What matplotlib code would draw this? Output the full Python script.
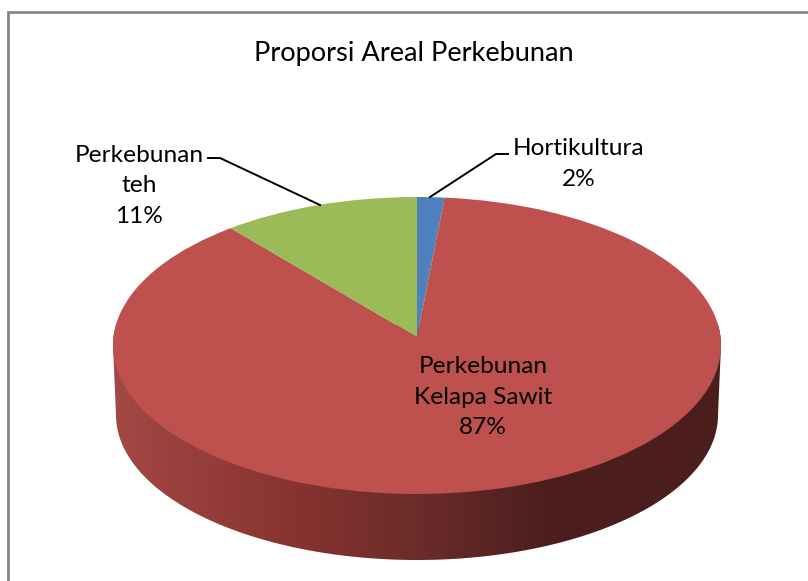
import numpy as np
import matplotlib
matplotlib.use('Agg')
import matplotlib.pyplot as plt
from matplotlib.colors import LinearSegmentedColormap
from matplotlib.patches import Polygon

plt.rcParams['font.family'] = ['Lato', 'DejaVu Sans']

W, H = 808, 581

title = 'Proporsi Areal Perkebunan'
labels = ['Hortikultura', 'Perkebunan\nKelapa Sawit', 'Perkebunan\nteh']
shares = [1.45, 88.05, 10.5]
percent = ['2%', '87%', '11%']
colors = ['#4F81BD', '#BE504D', '#9BBB59']

# where things sit, in image pixels
cx, cy, rx, ry = 417, 345.5, 304, 148.5
apex_y = 337
bot_cy, bot_rx, bot_ry = 415, 301, 145
label_xy = [(579, 164), (483, 397), (139, 186)]

def fy(y):
    return H - y

fig = plt.figure(figsize=(W / 100, H / 100), dpi=100)
ax = fig.add_axes([0, 0, 1, 1])
ax.set_xlim(0, W)
ax.set_ylim(0, H)
ax.axis('off')

# chart frame, only top and left are in view
ax.plot([8, 8, W], [0, fy(12), fy(12)], color='#868686', lw=2, solid_joinstyle='miter', zorder=1)

# side of the disc with the dark gradient
t = np.linspace(np.pi, 2 * np.pi, 200)
side = list(zip(cx + bot_rx * np.cos(t), fy(bot_cy) + bot_ry * np.sin(t)))
t2 = np.linspace(0, np.pi, 200)
side += list(zip(cx + rx * np.cos(t2), fy(cy) + ry * np.sin(t2)))
side_cmap = LinearSegmentedColormap.from_list(
    'side', [(0, '#A34845'), (0.3, '#87332F'), (0.5, '#6B2C2A'), (0.72, '#4B1E1D'), (1, '#4B1E1D')])
img = ax.imshow(np.linspace(0, 1, 256)[None, :], cmap=side_cmap, aspect='auto',
                extent=(cx - rx, cx + rx, fy(cy + 220), fy(cy - 20)), zorder=2)
img.set_clip_path(Polygon(side, transform=ax.transData))
ax.set_xlim(0, W)
ax.set_ylim(0, H)

# top of the disc
ax_pie = fig.add_axes([(cx - rx) / W, fy(cy + ry) / H, 2 * rx / W, 2 * ry / H], zorder=3)
wedges, _ = ax_pie.pie(shares, colors=colors, startangle=90, counterclock=False,
                       radius=1, wedgeprops={'linewidth': 0})
ax_pie.set_aspect('auto')
ax_pie.set_xlim(-1, 1)
ax_pie.set_ylim(-1, 1)
ax_pie.patch.set_visible(False)
# tilt moves the apex up from the middle of the ellipse
for w in wedges:
    v = w.get_path().vertices
    v[np.hypot(v[:, 0], v[:, 1]) < 1e-6] = (0, (cy - apex_y) / ry)

ax_top = fig.add_axes([0, 0, 1, 1], zorder=4)
ax_top.set_xlim(0, W)
ax_top.set_ylim(0, H)
ax_top.axis('off')

# leader lines
ax_top.plot([508, 496, 430], [fy(154), fy(154), fy(197)], color='black', lw=1.4)
ax_top.plot([208, 220, 320], [fy(158), fy(158), fy(205)], color='black', lw=1.4)

ax_top.text(414, fy(54), title, ha='center', va='center', fontsize=19.6, color='black')
for name, pct, (x, y) in zip(labels, percent, label_xy):
    ax_top.text(x, fy(y), name + '\n' + pct, ha='center', va='center', ma='center',
                fontsize=17.6, color='black', linespacing=1.56)

fig.savefig('out.png', dpi=100)
